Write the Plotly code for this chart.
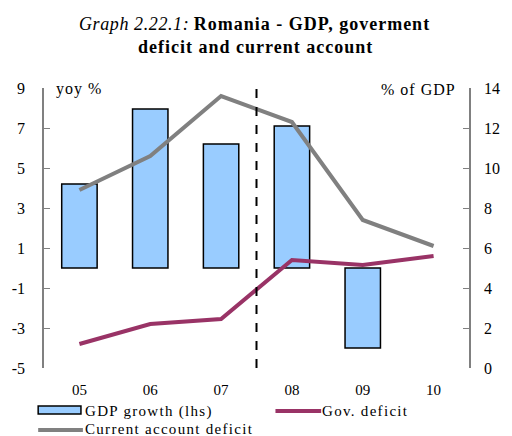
import plotly.graph_objects as go

# === data ===
years = ["05", "06", "07", "08", "09", "10"]
gdp_growth = [4.2, 7.95, 6.2, 7.1, -4.0, None]      # yoy %, left axis
gov_deficit = [1.2, 2.2, 2.45, 5.4, 5.15, 5.6]      # % of GDP, right axis
ca_deficit = [8.9, 10.6, 13.6, 12.3, 7.4, 6.1]      # % of GDP, right axis
left_ticks = [-5, -3, -1, 1, 3, 5, 7, 9]
right_ticks = [0, 2, 4, 6, 8, 10, 12, 14]

FONT = "Liberation Serif"
AXIS_GREY = "#808080"
BAR_BLUE = "#99CCFF"
GOV_RED = "#993366"
CA_GREY = "#808080"

W, H = 512, 436
L, R, T, B = 40, 35, 88, 68
PW, PH = W - L - R, H - T - B


def px(x):
    # pixel x -> paper x
    return (x - L) / PW


def py(y):
    # pixel y -> paper y
    return (H - B - y) / PH


def spaced(txt, sp=1.2):
    return f'<span style="letter-spacing:{sp}px">{txt}</span>'


fig = go.Figure()

fig.add_trace(go.Bar(
    x=years, y=gdp_growth, name="GDP growth (lhs)",
    marker=dict(color=BAR_BLUE, line=dict(color="black", width=1.5)),
    width=0.5,
))
fig.add_trace(go.Scatter(
    x=years, y=ca_deficit, name="Current account deficit", yaxis="y2",
    mode="lines", line=dict(color=CA_GREY, width=4),
))
fig.add_trace(go.Scatter(
    x=years, y=gov_deficit, name="Gov. deficit", yaxis="y2",
    mode="lines", line=dict(color=GOV_RED, width=4),
))

# dashed separator between 07 and 08
fig.add_shape(type="line", xref="x", yref="paper", x0=2.5, x1=2.5, y0=0, y1=1,
              line=dict(color="black", width=2, dash="dash"))

# title, two lines
fig.add_annotation(text="<i>" + spaced("Graph 2.22.1:", 0.6) + "</i> <b>"
                   + spaced("Romania - GDP, goverment", 1.0) + "</b>",
                   xref="paper", yref="paper", x=px(256), y=py(24),
                   xanchor="center", yanchor="middle", showarrow=False,
                   font=dict(family=FONT, size=18, color="black"))
fig.add_annotation(text="<b>" + spaced("deficit and current account", 1.0) + "</b>",
                   xref="paper", yref="paper", x=px(257), y=py(47),
                   xanchor="center", yanchor="middle", showarrow=False,
                   font=dict(family=FONT, size=18, color="black"))

# axis unit labels
fig.add_annotation(text=spaced("yoy %", 1.0), xref="paper", yref="paper", x=px(50), y=py(89),
                   xanchor="left", yanchor="middle", showarrow=False,
                   font=dict(family=FONT, size=16, color="black"))
fig.add_annotation(text=spaced("% of GDP", 1.0), xref="paper", yref="paper", x=px(466), y=py(89),
                   xanchor="right", yanchor="middle", showarrow=False,
                   font=dict(family=FONT, size=16, color="black"))

# hand-drawn legend (reference uses a wide bar swatch)
fig.add_shape(type="rect", xref="paper", yref="paper", x0=px(34), x1=px(78), y0=py(414), y1=py(406),
              fillcolor=BAR_BLUE, line=dict(color="black", width=1.5))
fig.add_shape(type="line", xref="paper", yref="paper", x0=px(278), x1=px(325), y0=py(411), y1=py(411),
              line=dict(color=GOV_RED, width=4))
fig.add_shape(type="line", xref="paper", yref="paper", x0=px(34), x1=px(80), y0=py(430), y1=py(430),
              line=dict(color=CA_GREY, width=4))
legend_items = [("GDP growth (lhs)", 80, 411), ("Gov. deficit", 324, 411),
                ("Current account deficit", 80, 429)]
for label, lx, ly in legend_items:
    fig.add_annotation(text=spaced(label, 1.3), xref="paper", yref="paper", x=px(lx), y=py(ly),
                       xanchor="left", yanchor="middle", showarrow=False,
                       font=dict(family=FONT, size=15, color="black"))

fig.update_layout(
    width=W, height=H,
    margin=dict(l=L, r=R, t=T, b=B),
    paper_bgcolor="white", plot_bgcolor="white",
    font=dict(family=FONT, size=15, color="black"),
    showlegend=False,
    xaxis=dict(type="category", categoryorder="array", categoryarray=years,
               range=[-0.5, 5.5], showline=False, showgrid=False, zeroline=False,
               ticks="outside", ticklen=8, tickcolor="rgba(0,0,0,0)",
               tickfont=dict(family=FONT, size=15)),
    xaxis2=dict(overlaying="x", anchor="free", position=5 / 14, range=[-0.5, 5.5],
                tickvals=[0.5, 1.5, 2.5, 3.5, 4.5], ticks="inside", ticklen=5,
                tickcolor=AXIS_GREY, showticklabels=False, showline=True,
                linecolor=AXIS_GREY, linewidth=1.5, showgrid=False, zeroline=False),
    yaxis=dict(range=[-5, 9], tickvals=left_ticks, ticktext=[str(v) for v in left_ticks],
               ticks="inside", ticklen=6,
               tickcolor=AXIS_GREY, showline=True, linecolor=AXIS_GREY, linewidth=1.5,
               showgrid=False, zeroline=False, ticklabelstandoff=14,
               tickfont=dict(family=FONT, size=16)),
    yaxis2=dict(range=[0, 14], tickvals=right_ticks, overlaying="y", side="right",
                ticks="inside", ticklen=6, tickcolor=AXIS_GREY, showline=True,
                linecolor=AXIS_GREY, linewidth=1.5, showgrid=False, zeroline=False,
                ticklabelstandoff=10, tickfont=dict(family=FONT, size=16)),
)

# drop the browser's default 8px body margin so the figure sits at the page corner
fig.write_html("out.html", config={"displayModeBar": False},
               post_script="document.body.style.margin='0';")
